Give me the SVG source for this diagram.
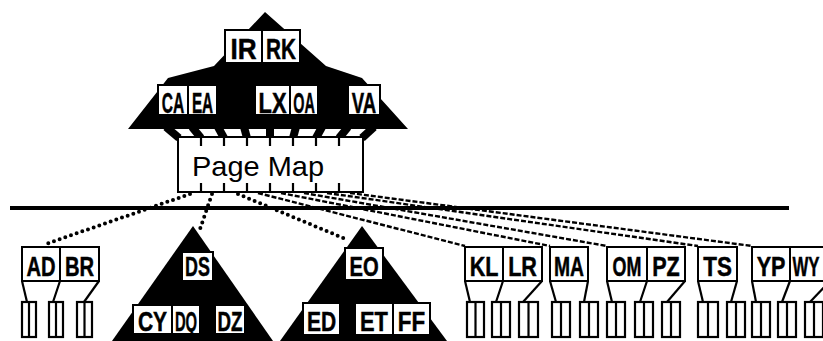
<svg xmlns="http://www.w3.org/2000/svg" width="823" height="341" viewBox="0 0 823 341">
<style>
.k rect{fill:#fff;stroke:#000;stroke-width:2}
.k text{font-family:"Liberation Sans",Arial,sans-serif;font-weight:bold;font-size:28px;text-anchor:middle;fill:#000;stroke:#000;stroke-width:0.5}
.big text{font-size:30px}
.tri{fill:#000}
.leaf rect{fill:#fff;stroke:#000;stroke-width:2.2}
.lk{stroke:#000;stroke-width:2.2;fill:none}
.dot{stroke:#000;stroke-width:4;stroke-dasharray:0 6;stroke-linecap:round;fill:none}
.dash{stroke:#000;stroke-width:2.4;stroke-dasharray:5 2;fill:none}
.fin{stroke:#000;stroke-width:8}
.pm{fill:#fff;stroke:#000;stroke-width:2}
.pmt{font-family:"Liberation Sans",Arial,sans-serif;font-size:28px;fill:#000}
</style>

<!-- connectors -->
<g id="connectors">
  <line x1="10" y1="208" x2="789" y2="208" stroke="#000" stroke-width="4"/>
  <g class="fin">
    <line x1="166" y1="127" x2="179" y2="138"/>
    <line x1="192" y1="127" x2="201" y2="138"/>
    <line x1="218" y1="127" x2="224" y2="138"/>
    <line x1="244" y1="127" x2="247" y2="138"/>
    <line x1="270" y1="127" x2="270" y2="138"/>
    <line x1="296" y1="127" x2="293" y2="138"/>
    <line x1="322" y1="127" x2="316" y2="138"/>
    <line x1="348" y1="127" x2="339" y2="138"/>
    <line x1="374" y1="127" x2="362" y2="138"/>
  </g>
  <path class="dot" d="M190,194 L43,245"/>
  <path class="dot" d="M212,194 L199,232"/>
  <path class="dot" d="M238,194 L348,240"/>
  <path class="dash" d="M258,193 L465,246"/>
  <path class="dash" d="M281,193 L550,246"/>
  <path class="dash" d="M304,193 L607,246"/>
  <path class="dash" d="M327,193 L698,246"/>
  <path class="dash" d="M350,193 L752,246"/>
  <!-- key boxes to leaf pages -->
  <g class="lk">
    <line x1="22" y1="281" x2="27" y2="302"/>
    <line x1="60" y1="281" x2="53" y2="302"/>
    <line x1="99" y1="281" x2="84" y2="302"/>
    <line x1="465" y1="281" x2="470" y2="302"/>
    <line x1="503" y1="281" x2="496" y2="302"/>
    <line x1="542" y1="281" x2="523" y2="302"/>
    <line x1="550" y1="281" x2="556" y2="302"/>
    <line x1="588" y1="281" x2="584" y2="302"/>
    <line x1="607" y1="281" x2="612" y2="302"/>
    <line x1="647" y1="281" x2="640" y2="302"/>
    <line x1="685" y1="281" x2="667" y2="302"/>
    <line x1="698" y1="281" x2="703" y2="302"/>
    <line x1="737" y1="281" x2="731" y2="302"/>
    <line x1="752" y1="281" x2="756" y2="302"/>
    <line x1="790" y1="281" x2="782" y2="302"/>
    <line x1="830" y1="281" x2="810" y2="302"/>
  </g>
</g>

<!-- root index triangle -->
<g id="root" class="k big">
  <polygon class="tri" points="265,12 214,66 168,78 128,129 408,129 362,78 326,66"/>
  <rect x="225" y="30" width="37" height="33"/><text transform="translate(243.5,59) scale(.87,1)">IR</text>
  <rect x="262" y="30" width="38" height="33"/><text transform="translate(281,59) scale(.69,1)">RK</text>
  <rect x="158" y="85" width="30" height="30"/><text transform="translate(173,113) scale(.52,1)">CA</text>
  <rect x="188" y="85" width="29" height="30"/><text transform="translate(202.5,113) scale(.51,1)">EA</text>
  <rect x="255" y="85" width="35" height="30"/><text transform="translate(272.5,113) scale(.73,1)">LX</text>
  <rect x="290" y="85" width="28" height="30"/><text transform="translate(304,113) scale(.48,1)">OA</text>
  <rect x="348" y="85" width="32" height="30"/><text transform="translate(364,113) scale(.62,1)">VA</text>
</g>

<!-- page map -->
<g id="pagemap">
  <rect class="pm" x="178" y="137" width="185" height="55"/>
  <path class="lk" d="M201,137v9M224,137v9M247,137v9M270,137v9M293,137v9M316,137v9M339,137v9M201,192v-9M224,192v-9M247,192v-9M270,192v-9M293,192v-9M316,192v-9M339,192v-9"/>
  <text class="pmt" x="192" y="176" textLength="132" lengthAdjust="spacingAndGlyphs">Page Map</text>
</g>

<!-- leaf node AD BR -->
<g id="node-ad-br" class="k">
  <rect x="22" y="247" width="38" height="34"/><text transform="translate(41,276) scale(.72,1)">AD</text>
  <rect x="60" y="247" width="39" height="34"/><text transform="translate(79.5,276) scale(.72,1)">BR</text>
</g>
<g id="leaves-ad-br" class="leaf">
  <rect x="22" y="302" width="14" height="35"/><line class="lk" x1="29" y1="302" x2="29" y2="337"/>
  <rect x="49" y="302" width="14" height="35"/><line class="lk" x1="56" y1="302" x2="56" y2="337"/>
  <rect x="77" y="302" width="15" height="35"/><line class="lk" x1="84.5" y1="302" x2="84.5" y2="337"/>
</g>

<!-- DS triangle -->
<g id="node-ds" class="k">
  <polygon class="tri" points="193,226 112,341 273,341"/>
  <rect x="182" y="252" width="31" height="29"/><text transform="translate(197.5,276) scale(.64,1)">DS</text>
  <rect x="133" y="305" width="39" height="29"/><text transform="translate(152.5,331) scale(.75,1)">CY</text>
  <rect x="172" y="305" width="28" height="29"/><text transform="translate(186,331) scale(.53,1)">DQ</text>
  <rect x="215" y="305" width="30" height="29"/><text transform="translate(230,331) scale(.67,1)">DZ</text>
</g>

<!-- EO triangle -->
<g id="node-eo" class="k">
  <polygon class="tri" points="362,226 280,341 447,341"/>
  <rect x="345" y="248" width="38" height="32"/><text transform="translate(364,276) scale(.72,1)">EO</text>
  <rect x="303" y="303" width="37" height="32"/><text transform="translate(321.5,331) scale(.75,1)">ED</text>
  <rect x="355" y="303" width="38" height="32"/><text transform="translate(374,331) scale(.78,1)">ET</text>
  <rect x="393" y="303" width="37" height="32"/><text transform="translate(411.5,331) scale(.8,1)">FF</text>
</g>

<!-- KL LR -->
<g id="node-kl-lr" class="k">
  <rect x="465" y="247" width="38" height="34"/><text transform="translate(484,276) scale(.77,1)">KL</text>
  <rect x="503" y="247" width="39" height="34"/><text transform="translate(522.5,276) scale(.77,1)">LR</text>
</g>
<g id="leaves-kl-lr" class="leaf">
  <rect x="467" y="302" width="17" height="35"/><line class="lk" x1="475.5" y1="302" x2="475.5" y2="337"/>
  <rect x="492" y="302" width="18" height="35"/><line class="lk" x1="501" y1="302" x2="501" y2="337"/>
  <rect x="519" y="302" width="19" height="35"/><line class="lk" x1="528.5" y1="302" x2="528.5" y2="337"/>
</g>

<!-- MA -->
<g id="node-ma" class="k">
  <rect x="550" y="247" width="38" height="34"/><text transform="translate(569,276) scale(.69,1)">MA</text>
</g>
<g id="leaves-ma" class="leaf">
  <rect x="552" y="302" width="18" height="35"/><line class="lk" x1="561" y1="302" x2="561" y2="337"/>
  <rect x="580" y="302" width="18" height="35"/><line class="lk" x1="589" y1="302" x2="589" y2="337"/>
</g>

<!-- OM PZ -->
<g id="node-om-pz" class="k">
  <rect x="607" y="247" width="40" height="34"/><text transform="translate(627,276) scale(.64,1)">OM</text>
  <rect x="647" y="247" width="38" height="34"/><text transform="translate(666,276) scale(.77,1)">PZ</text>
</g>
<g id="leaves-om-pz" class="leaf">
  <rect x="607" y="302" width="18" height="35"/><line class="lk" x1="616" y1="302" x2="616" y2="337"/>
  <rect x="635" y="302" width="18" height="35"/><line class="lk" x1="644" y1="302" x2="644" y2="337"/>
  <rect x="662" y="302" width="18" height="35"/><line class="lk" x1="671" y1="302" x2="671" y2="337"/>
</g>

<!-- TS -->
<g id="node-ts" class="k">
  <rect x="698" y="247" width="39" height="34"/><text transform="translate(717.5,276) scale(.8,1)">TS</text>
</g>
<g id="leaves-ts" class="leaf">
  <rect x="698" y="302" width="20" height="35"/><line class="lk" x1="708" y1="302" x2="708" y2="337"/>
  <rect x="727" y="302" width="18" height="35"/><line class="lk" x1="736" y1="302" x2="736" y2="337"/>
</g>

<!-- YP WY -->
<g id="node-yp-wy" class="k">
  <rect x="752" y="247" width="38" height="34"/><text transform="translate(771,276) scale(.77,1)">YP</text>
  <rect x="790" y="247" width="40" height="34"/><text transform="translate(806,276) scale(.6,1)">WY</text>
</g>
<g id="leaves-yp-wy" class="leaf">
  <rect x="752" y="302" width="18" height="35"/><line class="lk" x1="761" y1="302" x2="761" y2="337"/>
  <rect x="778" y="302" width="18" height="35"/><line class="lk" x1="787" y1="302" x2="787" y2="337"/>
  <rect x="805" y="302" width="18" height="35"/><line class="lk" x1="814" y1="302" x2="814" y2="337"/>
</g>
</svg>
